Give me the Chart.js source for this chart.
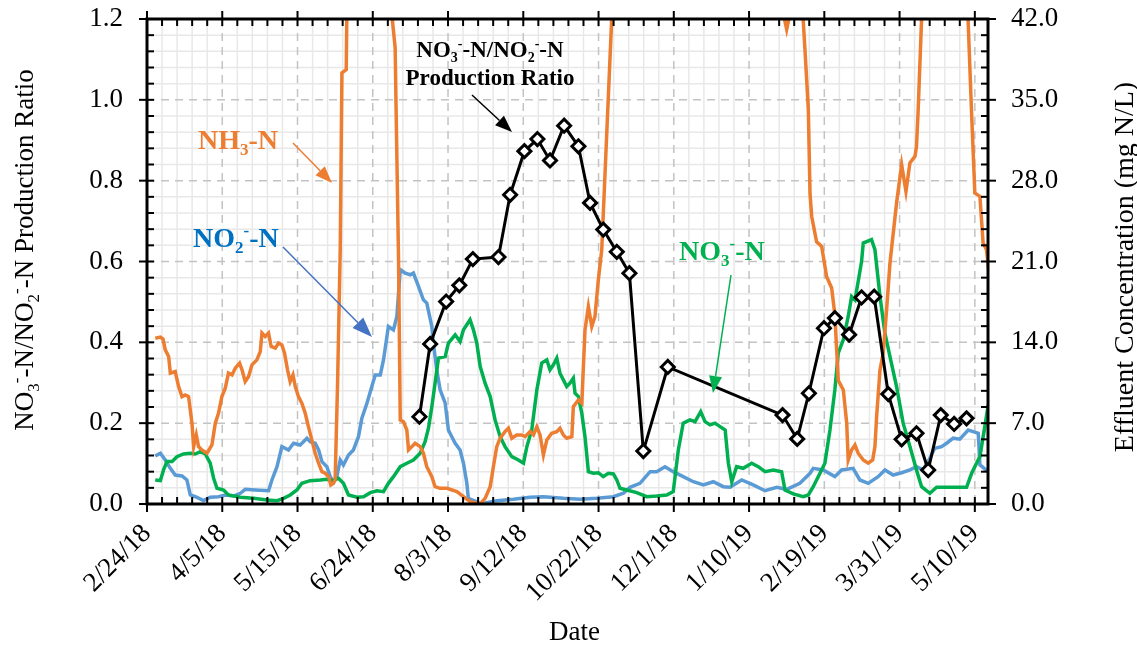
<!DOCTYPE html>
<html>
<head>
<meta charset="utf-8">
<script src="https://cdn.jsdelivr.net/npm/chart.js@4.4.0/dist/chart.umd.min.js"></script>
<style>
  body { margin: 0; background: #fff; }
  #wrap { width: 1137px; height: 645px; }
</style>
</head>
<body>
<div id="wrap"><canvas id="nitriChart" width="1137" height="645"></canvas></div>
<script>
// x values are days counted from 2/24/18
const xTickDays = [0, 40, 80, 120, 160, 200, 240, 280, 320, 360, 400, 440];
const xTickLabels = ['2/24/18', '4/5/18', '5/15/18', '6/24/18', '8/3/18', '9/12/18',
  '10/22/18', '12/1/18', '1/10/19', '2/19/19', '3/31/19', '5/10/19'];

// NO3-N/NO2-N production ratio (left axis)
const ratioDays = [144.8, 150.5, 159, 166, 173.2, 186.8, 193, 200.6, 207.5, 214.2, 221.7,
  229.3, 235.5, 242.5, 249.7, 256.4, 263.8, 276.8, 337.8, 345.6, 351.8, 359.8, 365.6,
  373.2, 379.8, 386.5, 394, 401.1, 409, 415.2, 421.9, 429, 435.6];
const ratioVals = [0.216, 0.396, 0.501, 0.541, 0.606, 0.611, 0.765, 0.873, 0.903, 0.850, 0.936,
  0.885, 0.745, 0.679, 0.624, 0.571, 0.131, 0.339, 0.220, 0.161, 0.274, 0.435, 0.460,
  0.419, 0.511, 0.513, 0.272, 0.160, 0.175, 0.084, 0.220, 0.198, 0.212];

// effluent concentrations, mg N/L (right axis), [day, value]
const nh3 = [[4.4,14.36],[7.1,14.45],[8.5,14.28],[9.7,13.35],[11.5,12.77],[12.4,11.33],[15.0,11.47],
  [16.8,10.17],[18.6,9.30],[20.3,9.45],[22.1,9.30],[23.9,7.00],[24.8,4.97],[26.2,5.98],[27.4,4.97],
  [29.2,4.68],[31.9,4.40],[34.5,5.11],[36.3,7.00],[38.0,7.86],[39.8,9.30],[41.6,10.03],[43.3,11.33],
  [45.2,11.18],[46.9,11.76],[49.2,12.20],[50.5,11.62],[52.2,10.60],[54.0,11.04],[55.8,12.05],
  [58.4,12.48],[60.2,13.20],[61.1,14.80],[62.8,14.50],[64.6,14.80],[66.0,13.64],[68.2,13.50],
  [69.9,13.93],[71.7,13.78],[73.1,13.06],[74.7,11.62],[76.1,10.60],[77.6,11.18],[78.8,10.17],
  [80.5,9.30],[82.3,8.73],[84.1,7.86],[85.8,6.70],[87.6,5.55],[89.4,4.40],[91.2,3.53],[93.0,2.80],
  [94.7,2.66],[96.5,2.37],[97.7,1.65],[99.1,1.79],[100.0,2.08],[101.3,10.49],[102.7,22.02],
  [103.6,37.34],[105.9,37.62],[106.6,48],[128.5,45],[131.9,39.5],[132.4,34.15],[133.7,21.15],
  [134.6,7.28],[136.3,7.13],[138.1,6.41],[139.0,4.68],[140.8,4.97],[142.5,5.26],[145.2,4.97],
  [146.9,4.40],[148.7,3.23],[151.4,2.37],[153.1,1.50],[155.8,1.36],[159.4,1.36],[164.7,1.07],
  [168.2,0.63],[171.7,0.20],[177.1,0],[179.7,0.49],[182.4,1.50],[184.1,3.23],[185.9,4.97],
  [187.7,5.70],[190.3,6.27],[192.1,6.56],[193.9,5.70],[196.5,5.98],[199.2,5.98],[201.0,5.83],
  [203.6,6.27],[205.4,5.98],[207.2,6.70],[208.9,5.98],[210.7,4.25],[212.5,5.55],[215.1,6.13],
  [217.8,6.27],[219.5,6.56],[221.3,5.98],[223.1,5.70],[225.8,5.83],[226.6,8.43],[229.3,9.02],
  [231.1,8.73],[232.8,15.08],[234.6,17.10],[236.4,15.37],[238.1,16.24],[239.9,19.42],[241.7,22.02],
  [248.5,47.7],[337.5,43],[340.0,41.1],[342.4,43],[348.0,44],[349.7,39.4],[351.5,34.2],[352.4,26.9],
  [353.3,24.9],[355.9,22.7],[358.6,22.3],[361.2,19.7],[363.9,18.7],[365.6,16.4],[367.4,10.7],
  [370.1,9.88],[371.9,7.00],[372.7,3.81],[374.5,4.68],[376.3,5.11],[378.0,4.40],[380.7,3.81],
  [383.3,3.53],[385.7,3.81],[386.9,4.97],[387.8,7.57],[389.6,11.62],[391.3,13.06],[393.1,16.82],
  [394.9,20.87],[398.4,26.07],[401.1,29.39],[403.4,27.07],[405.5,29.54],[408.2,30.11],[409.0,30.97],
  [409.9,34.16],[412.5,45.5],[435.8,44.6],[438.2,34.16],[440.0,26.93],[442.7,26.64],[444.4,22.6],
  [446.2,22.02],[447.6,19.85]];

const no2 = [[4.4,4.16],[7.1,4.40],[9.7,3.81],[12.4,3.09],[15.0,2.51],[18.6,2.43],[21.2,2.08],
  [23.0,0.78],[25.7,0.63],[30.1,0.29],[33.6,0.58],[38.0,0.63],[41.6,0.78],[46.0,0.69],[49.6,0.93],
  [52.2,1.27],[57.5,1.21],[64.6,1.15],[66.4,2.08],[69.1,3.23],[71.7,4.97],[75.2,4.68],[77.9,5.26],
  [81.4,5.11],[85.0,5.70],[86.7,5.40],[89.4,5.26],[91.2,4.68],[93.0,3.67],[95.6,3.23],[97.4,2.37],
  [99.1,1.93],[100.9,2.37],[102.7,3.81],[104.4,3.38],[107.1,4.25],[109.7,4.68],[112.4,5.83],
  [114.2,7.43],[116.9,8.73],[119.5,10.17],[121.3,11.18],[124.0,11.18],[125.7,12.48],[128.3,15.37],
  [131.0,15.08],[132.8,16.24],[134.6,20.29],[137.2,20.00],[139.9,19.85],[141.6,20.00],[144.3,18.84],
  [146.9,17.68],[148.7,17.40],[151.4,15.37],[152.2,13.93],[154.0,11.62],[155.8,9.88],[158.5,8.73],
  [160.2,6.41],[162.0,5.83],[163.8,5.26],[166.4,4.68],[168.2,3.53],[170.0,1.79],[170.8,0.49],
  [175.3,0.20],[177.1,0],[185.9,0.29],[194.7,0.41],[203.6,0.58],[210.7,0.63],[221.3,0.49],
  [230.2,0.41],[239.0,0.49],[247.9,0.63],[253.2,0.93],[256.7,1.45],[262.0,1.79],[267.4,2.80],
  [270.9,2.80],[275.3,3.23],[279.7,2.80],[285.0,2.37],[290.4,1.93],[295.7,1.65],[301.0,1.93],
  [306.3,1.50],[309.9,1.45],[316.1,2.08],[322.2,1.65],[328.5,1.15],[334.7,1.45],[340.0,1.27],
  [347.0,1.79],[352.4,2.66],[354.1,3.09],[359.4,2.95],[365.6,2.37],[369.2,2.95],[375.3,3.09],
  [378.9,2.08],[383.3,1.79],[388.6,2.37],[392.2,2.95],[396.6,2.51],[401.1,2.71],[405.5,2.95],
  [409.0,3.23],[412.5,2.95],[416.1,3.96],[418.7,4.83],[422.3,4.97],[425.0,5.26],[428.5,5.70],
  [432.0,5.61],[436.5,6.41],[439.1,6.27],[441.8,6.13],[442.7,3.38],[447.1,2.80]];

const no3 = [[4.4,2.08],[7.1,2.02],[8.8,2.95],[10.6,3.67],[13.3,3.67],[15.9,4.10],[19.4,4.33],
  [23.0,4.40],[25.7,4.33],[28.3,4.53],[31.0,4.33],[33.6,3.53],[35.4,2.23],[37.2,1.36],[40.7,1.21],
  [43.3,0.78],[49.6,0.58],[56.6,0.49],[63.7,0.35],[69.1,0.29],[72.6,0.49],[76.1,0.78],[79.7,1.21],
  [82.3,1.79],[86.7,2.02],[92.1,2.08],[95.6,2.14],[99.1,2.02],[101.8,2.23],[104.4,1.79],[107.1,0.78],
  [111.6,0.58],[115.1,0.63],[118.7,0.98],[122.2,1.15],[125.7,1.07],[128.3,1.79],[131.0,2.37],
  [134.6,3.23],[138.1,3.53],[141.6,3.81],[145.2,4.40],[147.8,5.40],[149.6,6.56],[151.4,8.43],
  [153.1,10.46],[154.9,12.63],[158.5,12.77],[160.2,13.93],[163.8,14.65],[166.4,14.07],[168.2,15.08],
  [171.7,15.95],[173.5,15.08],[175.3,13.93],[177.1,11.90],[179.7,10.46],[182.4,9.30],[185.0,7.28],
  [187.7,5.83],[190.3,4.97],[193.9,4.10],[197.4,3.81],[200.1,3.53],[201.9,4.97],[204.5,6.41],
  [207.2,9.88],[209.8,12.20],[212.5,12.48],[214.2,11.62],[216.0,12.05],[217.8,12.63],[219.5,11.33],
  [221.3,10.75],[223.1,10.17],[224.8,10.46],[226.6,10.90],[227.5,9.60],[229.3,9.30],[231.1,7.86],
  [232.8,5.83],[234.6,2.80],[237.2,2.66],[239.9,2.71],[242.5,2.37],[245.2,2.66],[247.9,2.60],
  [249.7,2.08],[251.4,1.36],[255.0,1.21],[260.3,0.98],[265.6,0.63],[270.9,0.69],[276.2,0.78],
  [279.7,1.07],[282.4,4.68],[285.0,7.00],[288.6,7.28],[291.3,7.13],[294.3,8.00],[296.6,7.13],
  [299.3,6.85],[301.9,7.00],[304.6,6.70],[307.3,6.41],[309.0,3.53],[310.8,1.93],[313.4,3.23],
  [316.9,3.09],[321.4,3.53],[324.9,3.23],[328.5,2.80],[332.9,2.95],[337.3,2.80],[339.1,1.21],
  [343.5,0.87],[348.8,0.63],[351.5,0.78],[354.1,1.50],[357.7,2.66],[360.3,3.53],[363.0,6.41],
  [365.6,9.88],[367.4,13.06],[370.1,14.22],[372.7,16.24],[374.5,17.97],[376.3,17.68],[378.0,19.27],
  [379.8,20.99],[380.7,22.60],[385.1,22.89],[386.9,22.02],[389.6,17.97],[392.2,14.80],[394.9,12.77],
  [398.4,10.17],[401.9,7.00],[405.5,4.97],[409.0,2.95],[411.7,1.50],[416.1,0.93],[419.7,1.45],
  [428.5,1.45],[435.6,1.45],[438.3,2.66],[440.9,3.53],[442.7,4.10],[445.3,6.70],[447.1,8.58]];

const SERIF = '"Liberation Serif", "Times New Roman", serif';
Chart.defaults.font.family = SERIF;
Chart.defaults.color = '#000';

// text pieces: [text, mode] mode 1 = subscript, -1 = superscript
function drawRich(ctx, parts, x, y, size, weight, color, align) {
  const small = Math.round(size * 0.62);
  let total = 0;
  const widths = parts.map(p => {
    ctx.font = weight + ' ' + (p[1] ? small : size) + 'px ' + SERIF;
    const w = ctx.measureText(p[0]).width;
    total += w;
    return w;
  });
  let cx = align === 'center' ? x - total / 2 : x;
  ctx.fillStyle = color;
  ctx.textAlign = 'left';
  ctx.textBaseline = 'alphabetic';
  parts.forEach((p, i) => {
    ctx.font = weight + ' ' + (p[1] ? small : size) + 'px ' + SERIF;
    const dy = p[1] === 1 ? size * 0.22 : p[1] === -1 ? -size * 0.4 : 0;
    ctx.fillText(p[0], cx, y + dy);
    cx += widths[i];
  });
}

function arrow(ctx, x1, y1, x2, y2, color, headLen, headW) {
  const ang = Math.atan2(y2 - y1, x2 - x1);
  const bx = x2 - headLen * Math.cos(ang), by = y2 - headLen * Math.sin(ang);
  ctx.strokeStyle = color;
  ctx.fillStyle = color;
  ctx.lineWidth = 1.5;
  ctx.beginPath();
  ctx.moveTo(x1, y1);
  ctx.lineTo(bx, by);
  ctx.stroke();
  ctx.beginPath();
  ctx.moveTo(x2, y2);
  ctx.lineTo(bx + headW / 2 * Math.sin(ang), by - headW / 2 * Math.cos(ang));
  ctx.lineTo(bx - headW / 2 * Math.sin(ang), by + headW / 2 * Math.cos(ang));
  ctx.closePath();
  ctx.fill();
}

const ratioName = [['NO'], ['3', 1], ['-', -1], ['-N/NO'], ['2', 1], ['-', -1], ['-N']];

// grid, frame, inward ticks, titles and callouts
const decor = {
  id: 'decor',
  beforeDatasetsDraw(chart) {
    const { ctx, chartArea: a, scales: { x, y } } = chart;
    const vline = px => { ctx.beginPath(); ctx.moveTo(px, a.top); ctx.lineTo(px, a.bottom); ctx.stroke(); };
    const hline = py => { ctx.beginPath(); ctx.moveTo(a.left, py); ctx.lineTo(a.right, py); ctx.stroke(); };
    ctx.save();
    ctx.lineWidth = 1.5;
    ctx.strokeStyle = '#e8e8e8';
    for (let d = 8; d <= x.max; d += 8) if (d % 40 !== 0) vline(x.getPixelForValue(d));
    for (let k = 1; k < 30; k++) if (k % 5 !== 0) hline(y.getPixelForValue(k * 0.04));
    ctx.strokeStyle = '#c3c3c3';
    ctx.setLineDash([8, 6]);
    xTickDays.forEach(d => { if (d > 0) vline(x.getPixelForValue(d)); });
    for (let k = 1; k < 6; k++) hline(y.getPixelForValue(k * 0.2));
    ctx.restore();
  },
  afterDatasetsDraw(chart) {
    const { ctx, chartArea: a, scales: { x, y } } = chart;
    const seg = (x1, y1, x2, y2) => { ctx.beginPath(); ctx.moveTo(x1, y1); ctx.lineTo(x2, y2); ctx.stroke(); };
    ctx.save();
    ctx.strokeStyle = '#000';
    ctx.lineWidth = 2;
    for (let d = 0; d <= x.max; d += 8) {
      const px = x.getPixelForValue(d);
      const major = d % 40 === 0;
      seg(px, a.bottom + (major ? 8 : 0), px, a.bottom - 7);
      seg(px, a.top - (major ? 8 : 0), px, a.top + 7);
    }
    for (let k = 0; k <= 30; k++) {
      const py = y.getPixelForValue(k * 0.04);
      const major = k % 5 === 0;
      seg(a.left - (major ? 8 : 0), py, a.left + 7, py);
      seg(a.right + (major ? 8 : 0), py, a.right - 7, py);
    }
    ctx.lineWidth = 3;
    ctx.strokeRect(a.left, a.top, a.right - a.left, a.bottom - a.top);
    ctx.restore();
  },
  afterDraw(chart) {
    const { ctx, chartArea: a } = chart;
    ctx.save();
    // axis titles
    ctx.save();
    ctx.translate(33, 250);
    ctx.rotate(-Math.PI / 2);
    drawRich(ctx, ratioName.concat([[' Production Ratio']]), 0, 0, 27, 'normal', '#000', 'center');
    ctx.restore();
    ctx.save();
    ctx.translate(1133, 267);
    ctx.rotate(-Math.PI / 2);
    drawRich(ctx, [['Effluent Concentration (mg N/L)']], 0, 0, 28, 'normal', '#000', 'center');
    ctx.restore();
    drawRich(ctx, [['Date']], (a.left + a.right) / 2 + 7, 640, 27, 'normal', '#000', 'center');

    // callouts
    drawRich(ctx, [['NH'], ['3', 1], ['-N']], 198, 149, 28, 'bold', '#ED7D31', 'left');
    arrow(ctx, 293, 143, 332, 183, '#ED7D31', 17, 13);
    drawRich(ctx, [['NO'], ['2', 1], ['-', -1], ['-N']], 193, 247, 28, 'bold', '#0070C0', 'left');
    arrow(ctx, 283, 247, 372, 337, '#4472C4', 20, 15);
    drawRich(ctx, [['NO'], ['3', 1], ['-', -1], ['-N']], 679, 260, 28, 'bold', '#00B050', 'left');
    arrow(ctx, 731, 275, 713, 393, '#00B050', 17, 13);
    drawRich(ctx, ratioName, 490, 57, 23, 'bold', '#000', 'center');
    drawRich(ctx, [['Production Ratio']], 490, 85, 23, 'bold', '#000', 'center');
    arrow(ctx, 472, 95, 512, 132, '#000', 17, 13);
    ctx.restore();
  }
};

const toXY = (days, vals) => days.map((d, i) => ({ x: d, y: vals[i] }));
const pairs = arr => arr.map(p => ({ x: p[0], y: p[1] }));
const tickFont = { family: SERIF, size: 27 };

// fixed axis boxes so the plot area lands where the original has it
const fitSide = w => s => { s.width = w; s.paddingTop = 19; s.paddingBottom = 0; };

new Chart(document.getElementById('nitriChart'), {
  type: 'line',
  data: {
    datasets: [{
      label: 'NO3-N/NO2-N Production Ratio',
      data: toXY(ratioDays, ratioVals),
      yAxisID: 'y',
      borderColor: '#000',
      borderWidth: 3,
      pointStyle: 'rectRot',
      pointRadius: 6.5,
      pointBorderWidth: 3,
      pointBorderColor: '#000',
      pointBackgroundColor: '#fff',
      tension: 0
    }, {
      label: 'NH3-N',
      data: pairs(nh3),
      yAxisID: 'y1',
      borderColor: '#ED7D31',
      borderWidth: 3.5,
      pointRadius: 0,
      tension: 0
    }, {
      label: 'NO3-N',
      data: pairs(no3),
      yAxisID: 'y1',
      borderColor: '#00B050',
      borderWidth: 3.5,
      pointRadius: 0,
      tension: 0
    }, {
      label: 'NO2-N',
      data: pairs(no2),
      yAxisID: 'y1',
      borderColor: '#5B9BD5',
      borderWidth: 3.5,
      pointRadius: 0,
      tension: 0
    }]
  },
  options: {
    responsive: false,
    animation: false,
    layout: { padding: 0 },
    plugins: {
      legend: { display: false },
      tooltip: { enabled: false }
    },
    scales: {
      x: {
        type: 'linear',
        min: 0,
        max: 447,
        afterBuildTicks: s => { s.ticks = xTickDays.map(v => ({ value: v })); },
        afterFit: s => { s.height = 141; s.paddingLeft = 0; s.paddingRight = 0; s.paddingTop = 0; s.paddingBottom = 0; },
        grid: { display: false, drawTicks: false },
        border: { display: false },
        ticks: {
          autoSkip: false,
          minRotation: 45,
          maxRotation: 45,
          padding: 14,
          font: tickFont,
          callback: v => xTickLabels[xTickDays.indexOf(v)] || ''
        }
      },
      y: {
        position: 'left',
        min: 0,
        max: 1.2,
        afterFit: fitSide(147),
        grid: { display: false, drawTicks: false },
        border: { display: false },
        ticks: { stepSize: 0.2, padding: 24, font: tickFont, callback: v => v.toFixed(1) }
      },
      y1: {
        position: 'right',
        min: 0,
        max: 42,
        afterFit: fitSide(149),
        grid: { display: false, drawTicks: false },
        border: { display: false },
        ticks: { stepSize: 7, padding: 23, font: tickFont, callback: v => v.toFixed(1) }
      }
    }
  },
  plugins: [decor]
});
</script>
</body>
</html>
